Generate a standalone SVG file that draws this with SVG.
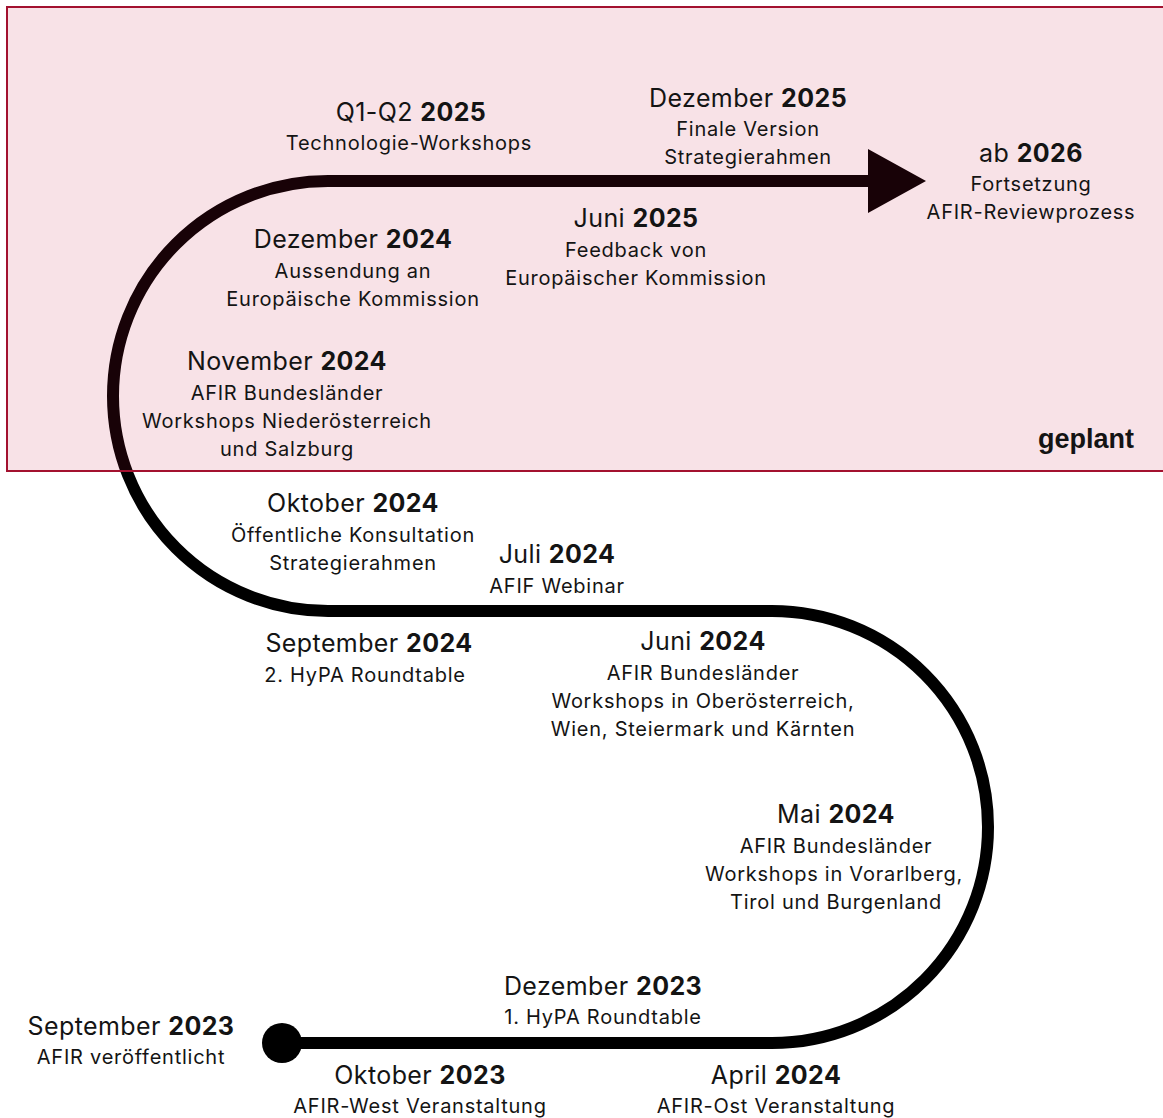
<svg xmlns="http://www.w3.org/2000/svg" width="1163" height="1118" viewBox="0 0 1163 1118">
<style>
  text { font-family: Inter, "Liberation Sans", sans-serif; fill: #141414; text-anchor: middle; }
  .t { font-size: 25px; letter-spacing: 0.4px; }
  .t tspan.y { font-weight: 700; }
  .s { font-size: 20px; letter-spacing: 0.75px; }
  .g { font-family: "Liberation Sans", Arial, sans-serif; font-weight: 700; font-size: 27px; text-anchor: end; }
  .road { fill: none; stroke: #000; stroke-width: 12; }
</style>
<rect width="1163" height="1118" fill="#fff"/>
<g id="connectors">
  <path class="road" d="M282,1043 H772 A216,216 0 0 0 772,611 H328 A215,215 0 0 1 328,181 H872"/>
  <polygon points="868,149 926,181 868,213" fill="#000"/>
  <circle cx="282" cy="1043" r="20" fill="#000"/>
</g>
<g id="planned-zone">
  <rect x="7" y="7" width="1170" height="464" fill="#c4103c" fill-opacity="0.12" stroke="#a3112f" stroke-width="2"/>
  <text class="g" x="1134" y="448">geplant</text>
</g>
<g id="q1q2-2025">
  <text class="t" x="411" y="121">Q1-Q2 <tspan class="y">2025</tspan></text>
  <text class="s" x="409" y="150">Technologie-Workshops</text>
</g>
<g id="dez-2025">
  <text class="t" x="748" y="107">Dezember <tspan class="y">2025</tspan></text>
  <text class="s" x="748" y="136">Finale Version</text>
  <text class="s" x="748" y="164">Strategierahmen</text>
</g>
<g id="ab-2026">
  <text class="t" x="1031" y="162">ab <tspan class="y">2026</tspan></text>
  <text class="s" x="1031" y="191">Fortsetzung</text>
  <text class="s" x="1031" y="219">AFIR-Reviewprozess</text>
</g>
<g id="juni-2025">
  <text class="t" x="636" y="227">Juni <tspan class="y">2025</tspan></text>
  <text class="s" x="636" y="257">Feedback von</text>
  <text class="s" x="636" y="285">Europäischer Kommission</text>
</g>
<g id="dez-2024">
  <text class="t" x="353" y="248">Dezember <tspan class="y">2024</tspan></text>
  <text class="s" x="353" y="278">Aussendung an</text>
  <text class="s" x="353" y="306">Europäische Kommission</text>
</g>
<g id="nov-2024">
  <text class="t" x="287" y="370">November <tspan class="y">2024</tspan></text>
  <text class="s" x="287" y="400">AFIR Bundesländer</text>
  <text class="s" x="287" y="428">Workshops Niederösterreich</text>
  <text class="s" x="287" y="456">und Salzburg</text>
</g>
<g id="okt-2024">
  <text class="t" x="353" y="512">Oktober <tspan class="y">2024</tspan></text>
  <text class="s" x="353" y="542">Öffentliche Konsultation</text>
  <text class="s" x="353" y="570">Strategierahmen</text>
</g>
<g id="juli-2024">
  <text class="t" x="557" y="563">Juli <tspan class="y">2024</tspan></text>
  <text class="s" x="557" y="593">AFIF Webinar</text>
</g>
<g id="sep-2024">
  <text class="t" x="369" y="652">September <tspan class="y">2024</tspan></text>
  <text class="s" x="365" y="682">2. HyPA Roundtable</text>
</g>
<g id="juni-2024">
  <text class="t" x="703" y="650">Juni <tspan class="y">2024</tspan></text>
  <text class="s" x="703" y="680">AFIR Bundesländer</text>
  <text class="s" x="703" y="708">Workshops in Oberösterreich,</text>
  <text class="s" x="703" y="736">Wien, Steiermark und Kärnten</text>
</g>
<g id="mai-2024">
  <text class="t" x="836" y="823">Mai <tspan class="y">2024</tspan></text>
  <text class="s" x="836" y="853">AFIR Bundesländer</text>
  <text class="s" x="834" y="881">Workshops in Vorarlberg,</text>
  <text class="s" x="836" y="909">Tirol und Burgenland</text>
</g>
<g id="dez-2023">
  <text class="t" x="603" y="995">Dezember <tspan class="y">2023</tspan></text>
  <text class="s" x="603" y="1024">1. HyPA Roundtable</text>
</g>
<g id="sep-2023">
  <text class="t" x="131" y="1035">September <tspan class="y">2023</tspan></text>
  <text class="s" x="131" y="1064">AFIR veröffentlicht</text>
</g>
<g id="okt-2023">
  <text class="t" x="420" y="1084">Oktober <tspan class="y">2023</tspan></text>
  <text class="s" x="420" y="1113">AFIR-West Veranstaltung</text>
</g>
<g id="apr-2024">
  <text class="t" x="776" y="1084">April <tspan class="y">2024</tspan></text>
  <text class="s" x="776" y="1113">AFIR-Ost Veranstaltung</text>
</g>
</svg>
